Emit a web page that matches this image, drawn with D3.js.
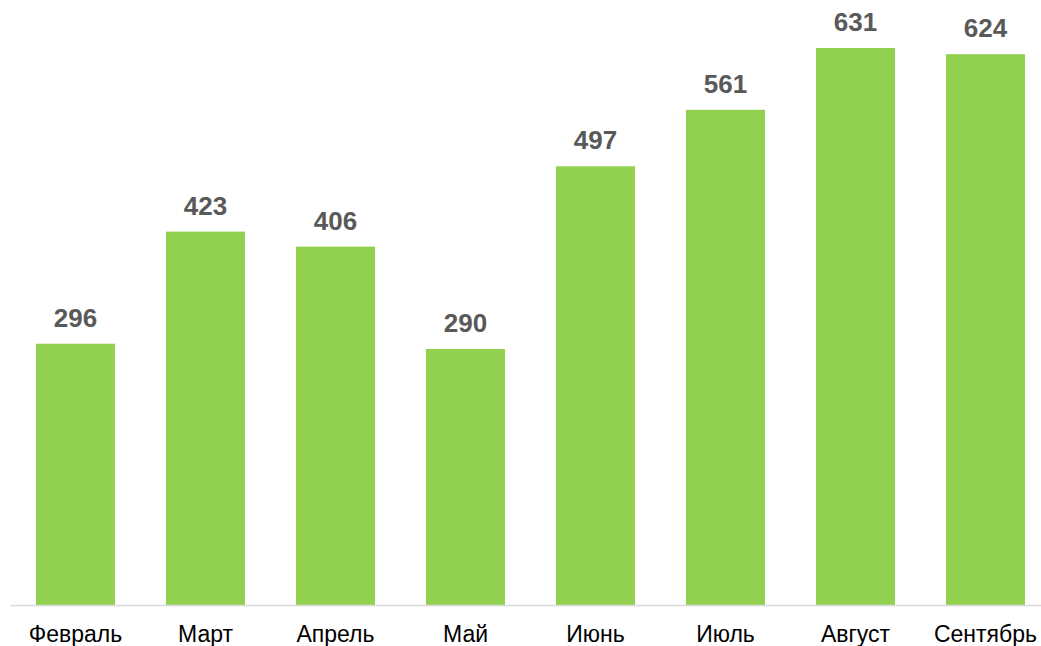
<!DOCTYPE html>
<html>
<head>
<meta charset="utf-8">
<script src="https://cdn.jsdelivr.net/npm/d3@7"></script>
<style>
  body { margin: 0; background: #fff; }
  svg { display: block; font-family: Arial, "Liberation Sans", sans-serif; }
</style>
</head>
<body>
<div id="chart"></div>
<script>
const months = ["Февраль", "Март", "Апрель", "Май", "Июнь", "Июль", "Август", "Сентябрь"];
const counts = [296, 423, 406, 290, 497, 561, 631, 624];

const width = 1041, height = 646;
const svg = d3.select("#chart").append("svg")
  .attr("width", width)
  .attr("height", height);

const base_y = 605;
const gap = 51 / 130;

const x_scale = d3.scaleBand()
  .domain(months)
  .range([10.5, 1050.5])
  .paddingInner(gap)
  .paddingOuter(gap / 2);

const y_scale = d3.scaleLinear()
  .domain([0, 631])
  .range([base_y, 48]);

const data = months.map((m, i) => ({ month: m, count: counts[i] }));

svg.selectAll(".bar")
  .data(data).enter()
  .append("rect")
  .attr("class", "bar")
  .attr("x", d => x_scale(d.month))
  .attr("y", d => y_scale(d.count))
  .attr("width", x_scale.bandwidth())
  .attr("height", d => base_y - y_scale(d.count))
  .style("fill", "#92d050");

// baseline
svg.append("line")
  .attr("x1", 10.5).attr("x2", width)
  .attr("y1", base_y + 0.5).attr("y2", base_y + 0.5)
  .style("stroke", "#d9d9d9")
  .style("stroke-width", 1.5);

// value labels
svg.selectAll(".value")
  .data(data).enter()
  .append("text")
  .attr("class", "value")
  .attr("x", d => x_scale(d.month) + x_scale.bandwidth() / 2)
  .attr("y", d => y_scale(d.count) - 17)
  .attr("text-anchor", "middle")
  .style("font-size", "26px")
  .style("font-weight", "bold")
  .style("fill", "#595959")
  .text(d => d.count);

// month labels
svg.selectAll(".month")
  .data(data).enter()
  .append("text")
  .attr("class", "month")
  .attr("x", d => x_scale(d.month) + x_scale.bandwidth() / 2)
  .attr("y", 642)
  .attr("text-anchor", "middle")
  .style("font-size", "23px")
  .style("fill", "#000")
  .text(d => d.month);
</script>
</body>
</html>
